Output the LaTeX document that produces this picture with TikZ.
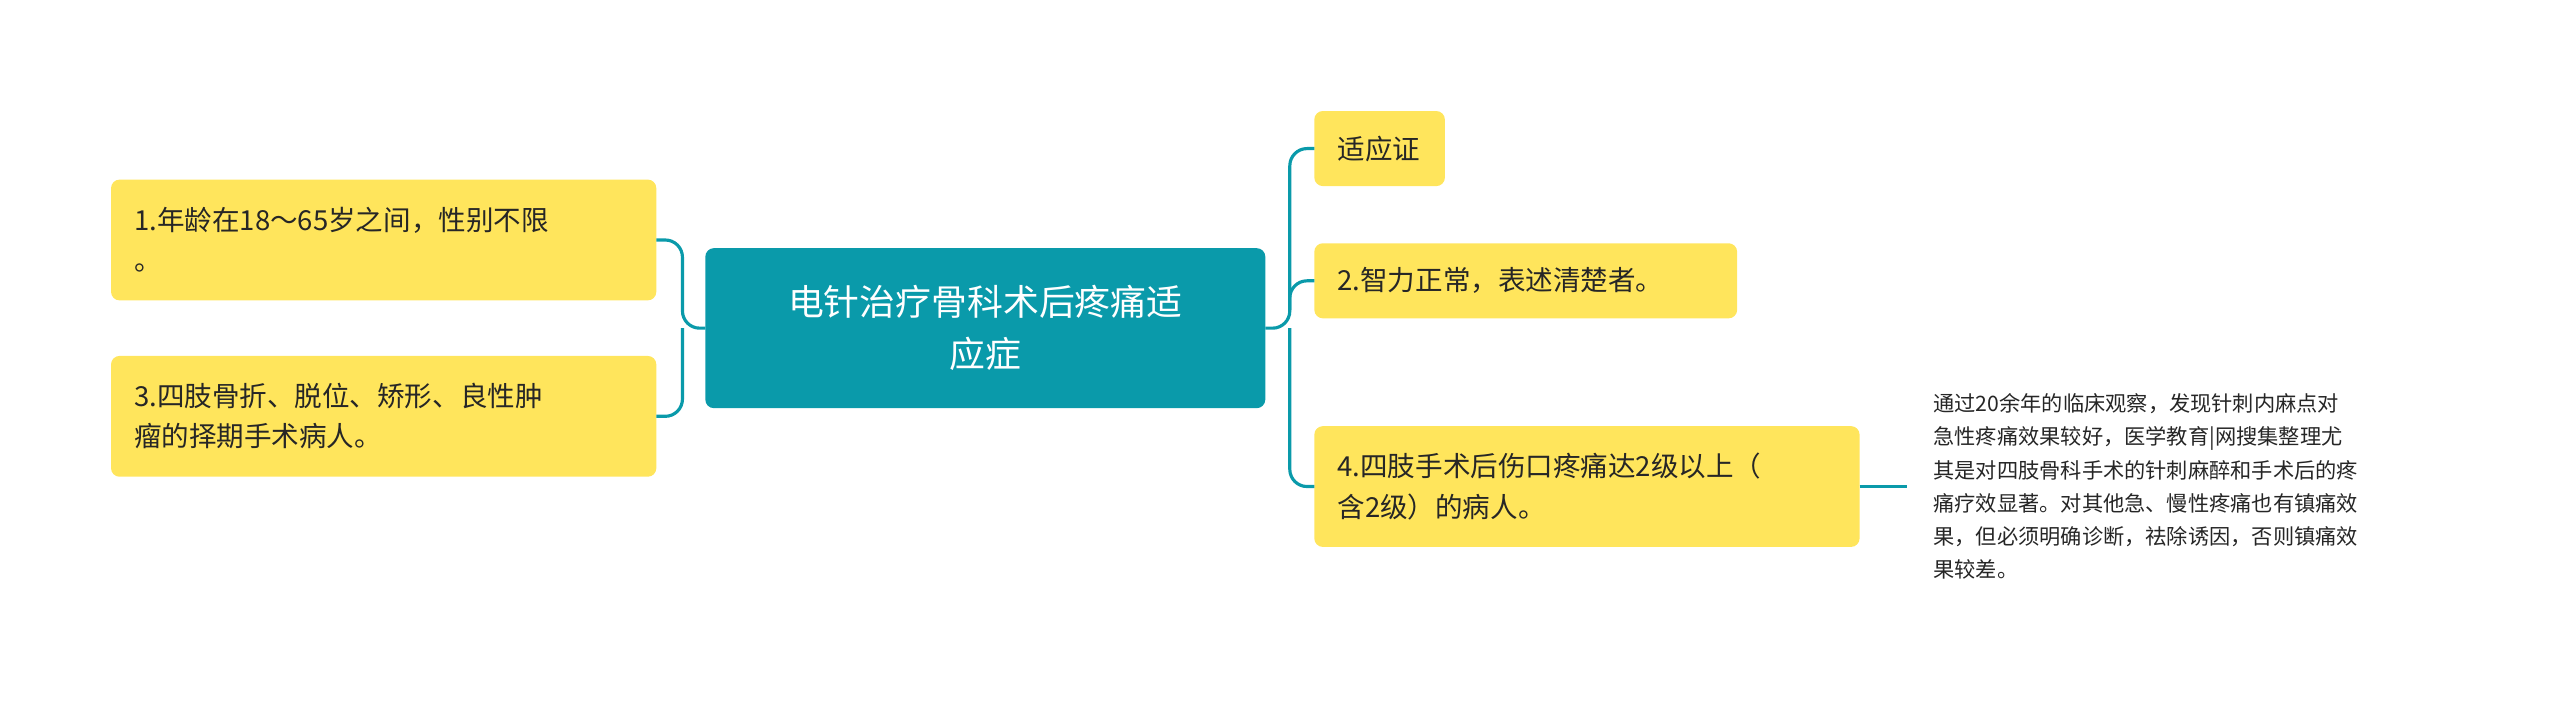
\documentclass[tikz,border=0pt]{standalone}
\usepackage{fontspec}
\setmainfont{Noto Sans CJK SC}
\definecolor{teal1}{HTML}{0A9AAA}
\definecolor{yel}{HTML}{FFE55C}
\begin{document}
\begin{tikzpicture}[x=0.02cm,y=-0.02cm,
  yb/.style={fill=yel,rounded corners=3pt,anchor=north west,inner sep=0pt},
  txt/.style={font=\fontsize{9.6pt}{14pt}\selectfont,align=left,anchor=west,text=black!85},
  ln/.style={draw=teal1,line width=1.1pt,rounded corners=6pt}]
\useasboundingbox (0,0) rectangle (1568,435);
\fill[teal1,rounded corners=3pt] (432,152) rectangle (775,250);
\node (c) at (603.5,201) [font=\fontsize{12.5pt}{18pt}\selectfont,text=white,align=center] {电针治疗骨科术后疼痛适\\应症};
\coordinate (cw) at (432,201); \coordinate (ce) at (775,201);
\fill[yel,rounded corners=3pt] (68,110) rectangle (402,184);
\node (l1) [txt] at (76,147) {1.年龄在18～65岁之间，性别不限\\。};
\fill[yel,rounded corners=3pt] (68,218) rectangle (402,292);
\node (l2) [txt] at (76,255) {3.四肢骨折、脱位、矫形、良性肿\\瘤的择期手术病人。};
\fill[yel,rounded corners=3pt] (805,68) rectangle (885,114);
\node (r1) [txt] at (813,91) {适应证};
\fill[yel,rounded corners=3pt] (805,149) rectangle (1064,195);
\node (r2) [txt] at (813,172) {2.智力正常，表述清楚者。};
\fill[yel,rounded corners=3pt] (805,261) rectangle (1139,335);
\node (r3) [txt] at (813,298) {4.四肢手术后伤口疼痛达2级以上（\\含2级）的病人。};
\node (n) at (1178,298) [anchor=west,align=left,font=\fontsize{7.4pt}{11.6pt}\selectfont,text=black!85] {通过20余年的临床观察，发现针刺内麻点对\\急性疼痛效果较好，医学教育|网搜集整理尤\\其是对四肢骨科手术的针刺麻醉和手术后的疼\\痛疗效显著。对其他急、慢性疼痛也有镇痛效\\果，但必须明确诊断，祛除诱因，否则镇痛效\\果较差。};
\coordinate (l1e) at (402,147); \coordinate (l2e) at (402,255);
\coordinate (r1w) at (805,91); \coordinate (r2w) at (805,172); \coordinate (r3w) at (805,298);
\draw[ln] (cw) -- (418,201) -- (418,147) -- (l1e);
\draw[ln] (418,201) -- (418,255) -- (l2e);
\draw[ln] (ce) -- (790,201) -- (790,91) -- (r1w);
\draw[ln] (790,190) -- (790,172) -- (r2w);
\draw[ln] (790,201) -- (790,298) -- (r3w);
\draw[ln] (1139,298) -- (1168,298);
\end{tikzpicture}
\end{document}
